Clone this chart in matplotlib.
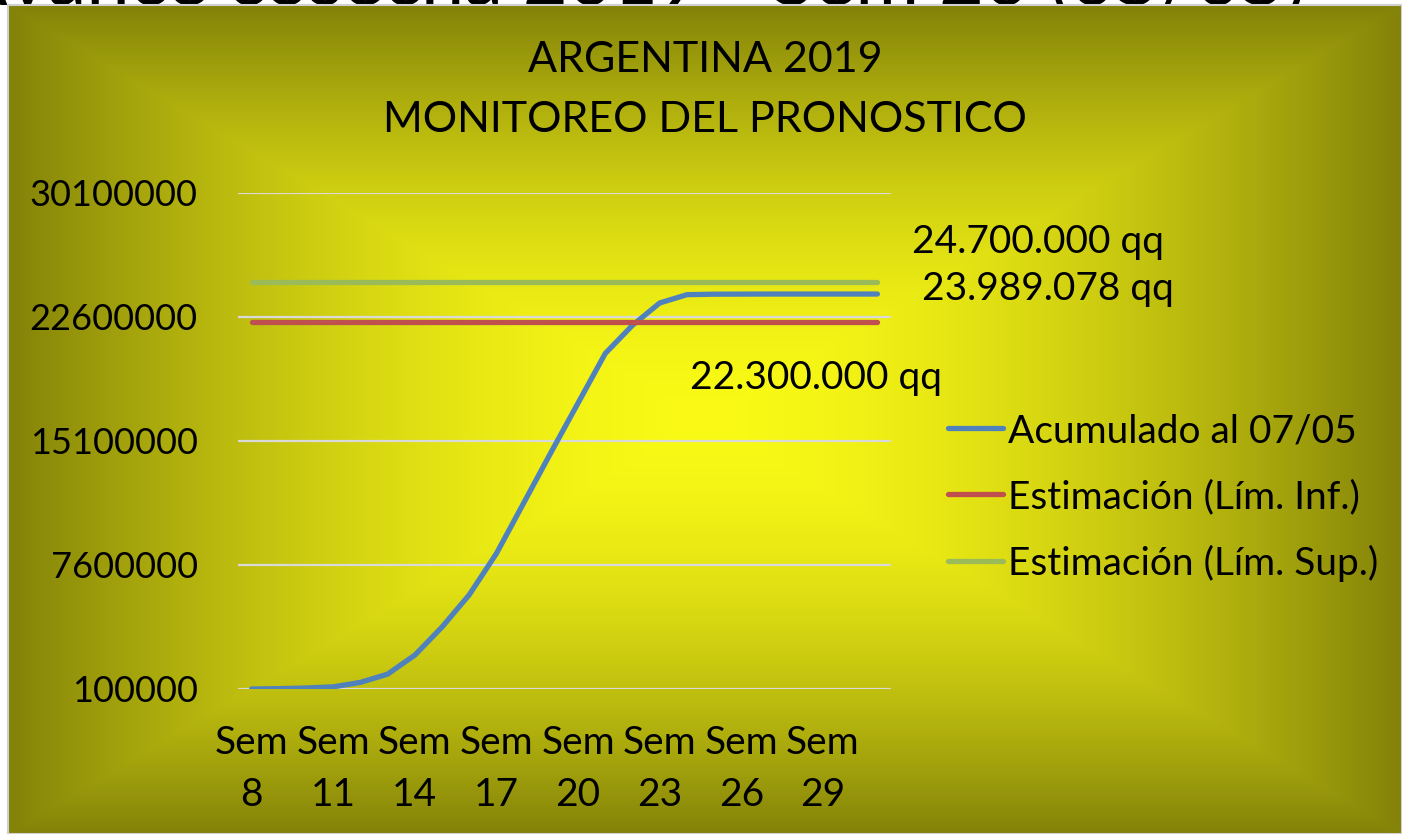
import matplotlib.pyplot as plt
import numpy as np
from matplotlib.lines import Line2D

plt.rcParams["font.family"] = ["Lato", "DejaVu Sans"]

# datos
weeks = list(range(8, 32))
acumulado = [
    100000, 120000, 160000, 230000, 500000, 1000000,
    2150000, 3850000, 5800000, 8300000, 11350000, 14400000,
    17400000, 20400000, 22100000, 23450000, 23950000, 23980000,
    23985000, 23989078, 23989078, 23989078, 23989078, 23989078,
]
lim_inf = [22300000] * len(weeks)
lim_sup = [24700000] * len(weeks)

y_ticks = [100000, 7600000, 15100000, 22600000, 30100000]
tick_weeks = [8, 11, 14, 17, 20, 23, 26, 29]
series_labels = [
    "Acumulado al 07/05",
    "Estimación (Lím. Inf.)",
    "Estimación (Lím. Sup.)",
]
series_colors = ["#4f81bd", "#c0504d", "#9bbb59"]
value_labels = ["24.700.000 qq", "23.989.078 qq", "22.300.000 qq"]

W, H = 1402, 834


def fx(px):
    return px / W


def fy(py):
    return 1 - py / H


fig = plt.figure(figsize=(W / 100, H / 100), dpi=100)
fig.patch.set_facecolor("white")

# franja superior: titulo de la diapositiva que queda tapado por el grafico
top_ax = fig.add_axes([0, fy(5), 1, 5 / H])
top_ax.set_axis_off()
top_ax.text(fx(-45), 0.0, "Avance cosecha 2019 - Sem 20 (05/05)", ha="left",
            va="baseline", fontsize=56, color="black", clip_on=True,
            transform=top_ax.transAxes)

# fondo con degradado rectangular desde el centro
bg_ax = fig.add_axes([fx(8), 0, 1 - fx(8), fy(5)])
u = np.linspace(-1, 1, 700)
v = np.linspace(-1, 1, 420)
uu, vv = np.meshgrid(u, v)
t = np.maximum(np.abs(uu), np.abs(vv)) ** 1.7
c_center = np.array([250, 250, 22]) / 255
c_edge = np.array([131, 130, 9]) / 255
grad = c_center[None, None, :] * (1 - t[..., None]) + c_edge[None, None, :] * t[..., None]
bg_ax.imshow(grad, aspect="auto", extent=[0, 1, 0, 1], interpolation="bilinear")
bg_ax.set_xlim(0, 1)
bg_ax.set_ylim(0, 1)
for spine in bg_ax.spines.values():
    spine.set_color("#d0d0d0")
    spine.set_linewidth(1.5)
bg_ax.set_xticks([])
bg_ax.set_yticks([])

# grafico principal
ax = fig.add_axes([fx(238), fy(689), fx(891 - 238), (689 - 193) / H])
ax.patch.set_alpha(0)

x = np.arange(len(weeks))
lw = 3.8
ax.plot(x, acumulado, color=series_colors[0], lw=lw, solid_capstyle="round",
        solid_joinstyle="round", zorder=3)
ax.plot(x, lim_inf, color=series_colors[1], lw=lw, solid_capstyle="round", zorder=3)
ax.plot(x, lim_sup, color=series_colors[2], lw=lw, solid_capstyle="round", zorder=3)

ax.set_xlim(-0.5, len(weeks) - 0.5)
ax.set_ylim(y_ticks[0], y_ticks[-1])
ax.set_yticks(y_ticks)
ax.set_yticklabels([str(v) for v in y_ticks], fontsize=26)
ax.set_xticks([weeks.index(w) for w in tick_weeks])
ax.set_xticklabels([f"Sem\n{w}" for w in tick_weeks], fontsize=28, linespacing=1.55)
ax.tick_params(axis="y", length=0, pad=29)
ax.tick_params(axis="x", length=0, pad=26)
ax.grid(axis="y", color="#d9d9d9", lw=1.6, zorder=1)
for spine in ax.spines.values():
    spine.set_visible(False)

fig.text(0.503, fy(60), "ARGENTINA 2019", ha="center", va="center", fontsize=31)
fig.text(0.503, fy(120), "MONITOREO DEL PRONOSTICO", ha="center", va="center", fontsize=31)

# etiquetas de valores
fig.text(fx(912), fy(242), value_labels[0], ha="left", va="center", fontsize=28)
fig.text(fx(922), fy(289), value_labels[1], ha="left", va="center", fontsize=28)
fig.text(fx(690), fy(378), value_labels[2], ha="left", va="center", fontsize=28)

handles = [Line2D([0], [0], color=c, lw=lw, solid_capstyle="round") for c in series_colors]
fig.legend(handles, series_labels, loc="upper left", bbox_to_anchor=(fx(948), fy(413)),
           frameon=False, fontsize=28, handlelength=1.41, handletextpad=0.13,
           labelspacing=0.77, borderpad=0, borderaxespad=0)

fig.savefig("out.png", dpi=100)
